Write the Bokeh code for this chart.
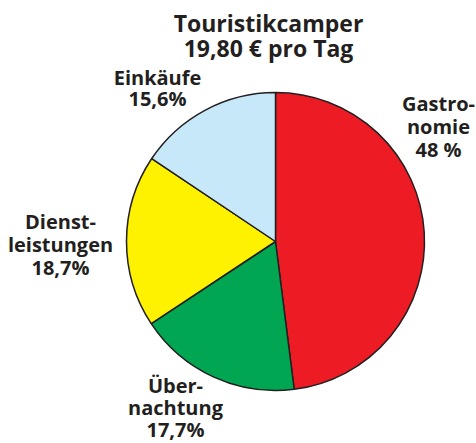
import math
from bokeh.plotting import figure
from bokeh.models import ColumnDataSource, Range1d
from bokeh.core.properties import value
from bokeh.embed import file_html
from bokeh.resources import INLINE

W, H = 476, 443

# ---- data ----
categories = ["Gastronomie", "Übernachtung", "Dienstleistungen", "Einkäufe"]
shares = [48.0, 17.7, 18.7, 15.6]
labels = ["Gastro-\nnomie\n48 %", "Über-\nnachtung\n17,7%", "Dienst-\nleistungen\n18,7%", "Einkäufe\n15,6%"]
colors = ["#ed1c24", "#00a651", "#fff200", "#c7e8f8"]
title_lines = ["Touristikcamper", "19,80 € pro Tag"]

# ---- layout (pixel coordinates, y measured from top) ----
cx, cy, r = 275, 241, 149
shift = -9
label_pos = [(438, 112), (175, 394), (60, 230), (157, 86)]  # center x, first baseline
line_gaps = [23, 22, 23, 21]
title_pos = (268, 31)
title_gap = 25
font = "Open Sans"
txt_color = "#231f20"

def Y(y):
    return H - y

p = figure(width=W, height=H, output_backend="svg", toolbar_location=None,
           x_range=Range1d(0, W), y_range=Range1d(0, H), min_border=0)
p.axis.visible = False
p.grid.visible = False
p.outline_line_color = None
p.background_fill_color = "white"
p.border_fill_color = "white"

# wedges, clockwise from 12 o'clock
total = sum(shares)
starts, ends = [], []
a = math.pi / 2
for s in shares:
    starts.append(a)
    a -= 2 * math.pi * s / total
    ends.append(a)

src = ColumnDataSource(dict(start=starts, end=ends, color=colors, cat=categories))
p.wedge(x=cx, y=Y(cy), radius=r, start_angle="start", end_angle="end",
        direction="clock", fill_color="color", line_color=txt_color,
        line_width=1.5, source=src)

# labels
tx, ty, tt = [], [], []
for (lx, ly), lab, gap in zip(label_pos, labels, line_gaps):
    for i, line in enumerate(lab.split("\n")):
        tx.append(lx)
        ty.append(Y(ly + shift + i * gap))
        tt.append(line)
p.text(x=tx, y=ty, text=tt, text_font=value(font), text_font_style="bold",
       text_font_size="20px", text_color=txt_color, text_align="center",
       text_baseline="alphabetic")

# title
ttx = [title_pos[0]] * len(title_lines)
tty = [Y(title_pos[1] + shift + i * title_gap) for i in range(len(title_lines))]
p.text(x=ttx, y=tty, text=title_lines, text_font=value(font), text_font_style="bold",
       text_font_size="23px", text_color=txt_color, text_align="center",
       text_baseline="alphabetic")

open("out.html", "w").write(file_html(p, INLINE))
